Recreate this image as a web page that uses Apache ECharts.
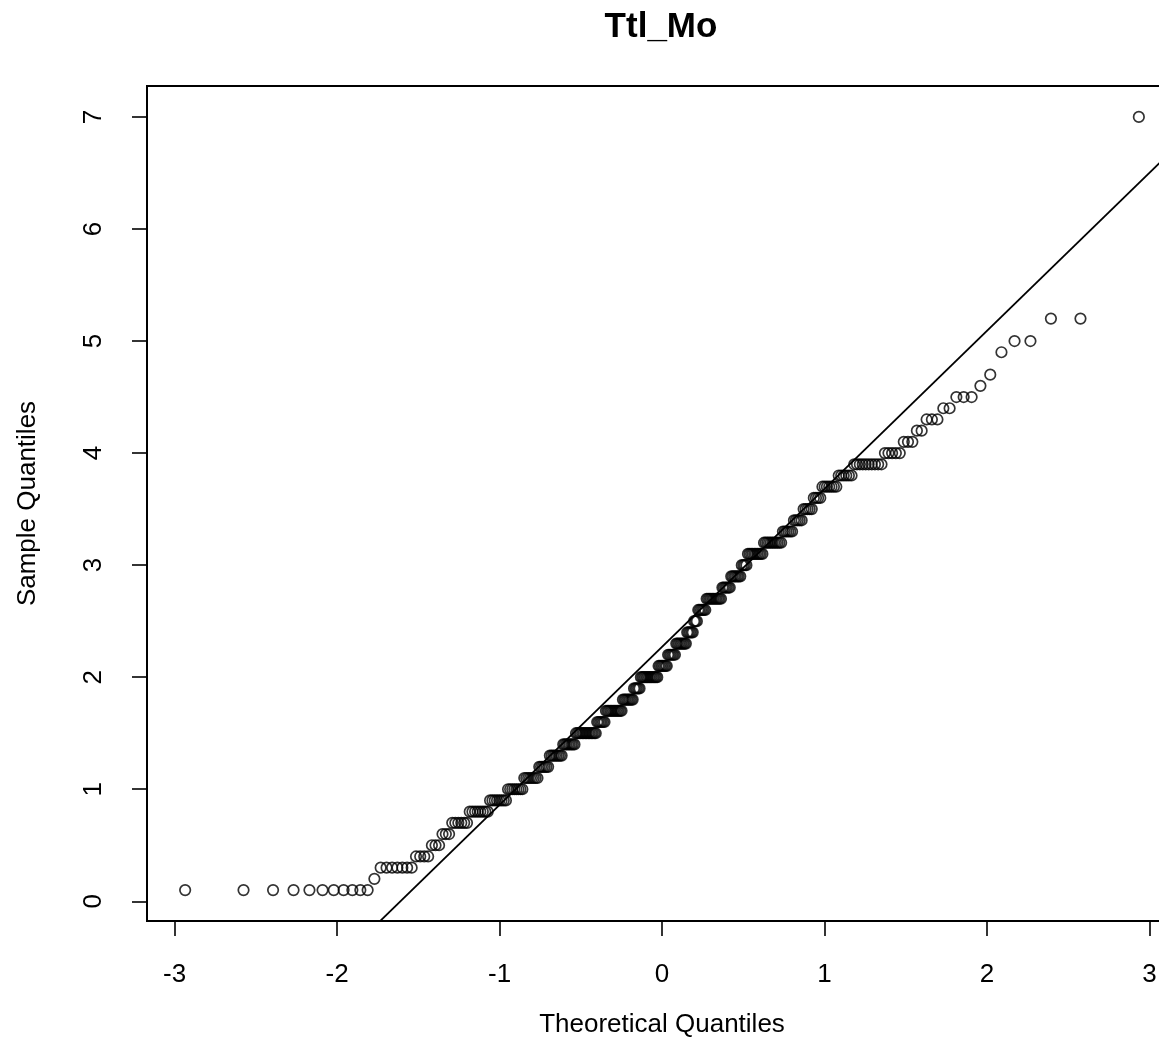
<!DOCTYPE html>
<html>
<head>
<meta charset="utf-8">
<script src="https://cdn.jsdelivr.net/npm/echarts@6/dist/echarts.min.js"></script>
<style>
html,body{margin:0;padding:0;background:#fff;}
#chart{width:1159px;height:1050px;}
</style>
</head>
<body>
<div id="chart"></div>
<script>
// Sorted sample values (distinct levels) and how many observations sit at each level
const sampleValues = [0.1,0.2,0.3,0.4,0.5,0.6,0.7,0.8,0.9,1.0,
  1.1,1.2,1.3,1.4,1.5,1.6,1.7,1.8,1.9,2.0,
  2.1,2.2,2.3,2.4,2.5,2.6,2.7,2.8,2.9,3.0,
  3.1,3.2,3.3,3.4,3.5,3.6,3.7,3.8,3.9,4.0,
  4.1,4.2,4.3,4.4,4.5,4.6,4.7,4.9,5.0,5.2,7.0];
const sampleCounts = [11,1,7,4,3,3,6,8,8,8,
  8,6,8,8,14,6,12,8,5,13,
  7,6,8,5,3,6,11,6,7,4,
  10,11,6,5,5,4,7,6,10,5,
  3,2,3,2,3,1,1,1,2,2,1];
// Reference line (qqline)
const qqLineIntercept = 2.27;
const qqLineSlope = 1.41;
const xTicks = [-3,-2,-1,0,1,2,3];
const yTicks = [0,1,2,3,4,5,6,7];
const xRange = [-3.17, 3.17];
const yRange = [-0.176, 7.276];

function qnorm(p){
  const a=[-3.969683028665376e+01,2.209460984245205e+02,-2.759285104469687e+02,1.383577518672690e+02,-3.066479806614716e+01,2.506628277459239e+00];
  const b=[-5.447609879822406e+01,1.615858368580409e+02,-1.556989798598866e+02,6.680131188771972e+01,-1.328068155288572e+01];
  const c=[-7.784894002430293e-03,-3.223964580411365e-01,-2.400758277161838e+00,-2.549732539343734e+00,4.374664141464968e+00,2.938163982698783e+00];
  const d=[7.784695709041462e-03,3.224671290700398e-01,2.445134137142996e+00,3.754408661907416e+00];
  const pl=0.02425, ph=1-pl; let q,r;
  if(p<pl){q=Math.sqrt(-2*Math.log(p));return (((((c[0]*q+c[1])*q+c[2])*q+c[3])*q+c[4])*q+c[5])/((((d[0]*q+d[1])*q+d[2])*q+d[3])*q+1);}
  if(p<=ph){q=p-0.5;r=q*q;return (((((a[0]*r+a[1])*r+a[2])*r+a[3])*r+a[4])*r+a[5])*q/(((((b[0]*r+b[1])*r+b[2])*r+b[3])*r+b[4])*r+1);}
  q=Math.sqrt(-2*Math.log(1-p));return -(((((c[0]*q+c[1])*q+c[2])*q+c[3])*q+c[4])*q+c[5])/((((d[0]*q+d[1])*q+d[2])*q+d[3])*q+1);
}

// expand to sorted sample, pair with theoretical normal quantiles (ppoints)
const sample = [];
sampleValues.forEach((v,k)=>{ for(let j=0;j<sampleCounts[k];j++) sample.push(v); });
const n = sample.length;
const points = sample.map((v,i)=>[qnorm((i+1-0.5)/n), v]);
const lineData = [[-4, qqLineIntercept - 4*qqLineSlope],[4, qqLineIntercept + 4*qqLineSlope]];

const FONT = 'Liberation Sans, Arial, Helvetica, sans-serif';
const chart = echarts.init(document.getElementById('chart'), null, {renderer:'canvas'});
chart.setOption({
  animation:false,
  backgroundColor:'#fff',
  title:{
    text:'Ttl_Mo', left:656, top:5, textAlign:'center',
    textStyle:{fontFamily:FONT,fontWeight:'bold',fontSize:35,color:'#000'}
  },
  grid:{left:147, top:86, width:1030, height:835, outerBoundsMode:'none', show:true, borderColor:'#000', borderWidth:2, backgroundColor:'rgba(0,0,0,0)', containLabel:false},
  xAxis:{
    type:'value', min:xRange[0], max:xRange[1],
    name:'Theoretical Quantiles', nameLocation:'middle', nameGap:91,
    nameTextStyle:{fontFamily:FONT,fontSize:26,color:'#000'},
    axisLine:{show:false, onZero:false},
    splitLine:{show:false},
    axisTick:{show:true, inside:false, length:15, customValues:xTicks, lineStyle:{color:'#000',width:1.6}},
    axisLabel:{show:true, customValues:xTicks, margin:41, fontFamily:FONT, fontSize:26, color:'#000'}
  },
  yAxis:{
    type:'value', min:yRange[0], max:yRange[1],
    name:'Sample Quantiles', nameLocation:'middle', nameGap:106, nameRotate:90,
    nameTextStyle:{fontFamily:FONT,fontSize:26,color:'#000'},
    axisLine:{show:false, onZero:false},
    splitLine:{show:false},
    axisTick:{show:true, inside:false, length:15, customValues:yTicks, lineStyle:{color:'#000',width:1.6}},
    axisLabel:{show:true, customValues:yTicks, rotate:90, margin:40, fontFamily:FONT, fontSize:26, color:'#000'}
  },
  series:[
    {type:'scatter', data:points, symbol:'circle', symbolSize:10.5,
     itemStyle:{color:'rgba(0,0,0,0)', borderColor:'#000', borderWidth:1.7}, silent:true},
    {type:'line', data:lineData, showSymbol:false, clip:true, silent:true,
     lineStyle:{color:'#000', width:1.8}}
  ]
});
</script>
</body>
</html>
